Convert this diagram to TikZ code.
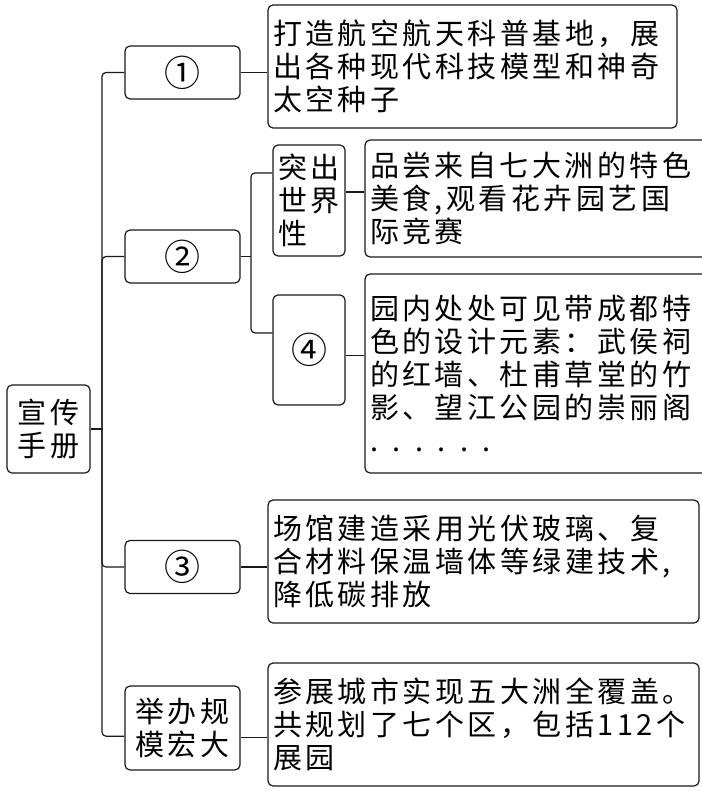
\documentclass[tikz,border=0pt]{standalone}
\usepackage{fontspec}
\setmainfont{Noto Sans CJK SC}[LetterSpace=12]
\usetikzlibrary{positioning}

\begin{document}
\begin{tikzpicture}[x=1pt,y=-1pt,
  box/.style={draw=black!90, line width=1.2pt, rounded corners=5pt,
    inner xsep=5pt, inner ysep=0pt, font=\fontsize{29}{33}\selectfont},
  lbl/.style={box, minimum width=115pt, align=center},
  num/.style={font=\fontsize{36}{36}\selectfont},
  txt/.style={box, align=left},
  wire/.style={draw=black!90, line width=1.2pt, rounded corners=4pt}]
\useasboundingbox (0,0) rectangle (701,791);

% root and first level
\node [box, minimum width=83pt, minimum height=88pt, align=center] (root) at (48.5,429) {宣传\\手册};
\node [lbl, num, minimum height=53pt] (n1) at (182.5,72.5) {①};
\node [lbl, num, minimum height=53pt] (n2) at (182.5,256.5) {②};
\node [lbl, num, minimum height=53pt] (n3) at (182.5,567) {③};
\node [lbl, minimum height=84pt] (n4) at (182.5,728) {举办规\\模宏大};

% second level under n2
\node [box, inner xsep=3pt, minimum width=72pt, minimum height=111pt, align=left] (s1) at (309,200.5) {突出\\世界\\性};
\node [box, num, minimum width=72pt, minimum height=110pt, align=center] (s2) at (309,350) {④};

% text boxes
\node [txt, text width=399pt, minimum height=123pt] (t1) at (472.5,66.5)
  {打造航空航天科普基地，展\\出各种现代科技模型和神奇\\太空种子};
\node [txt, text width=335pt, minimum height=117pt] (ts1) at (537.5,198.5)
  {品尝来自七大洲的特色\\美食,观看花卉园艺国\\际竞赛};
\node [txt, text width=335pt, minimum height=199pt] (ts2) at (537.5,373.5)
  {园内处处可见带成都特\\色的设计元素：武侯祠\\的红墙、杜甫草堂的竹\\影、望江公园的崇丽阁\\. . . . . .};
\node [txt, text width=421pt, minimum height=123pt] (t3) at (483.5,561.5)
  {场馆建造采用光伏玻璃、复\\合材料保温墙体等绿建技术,\\降低碳排放};
\node [txt, text width=421pt, minimum height=123pt] (t4) at (483.5,724.5)
  {参展城市实现五大洲全覆盖。\\共规划了七个区，包括112个\\展园};

% connectors
\coordinate (fork) at (102,429);
\coordinate (fork2) at (251,256.5);
\draw [wire] (root.east) -- (fork);
\draw [wire] (n1.west) -| (fork) |- (n4.188);
\foreach \n in {n2,n3}
  \draw [wire] (\n.west) -| (fork);
\draw [wire] (n2.east) -- (fork2);
\draw [wire] (s1.143) -| (fork2) |- (s2.155);
\draw [wire] (n1.east) -- (n1.east -| t1.west);
\draw [wire] (s1.13) -- (s1.13 -| ts1.west);
\draw [wire] (s2.-8) -- (s2.-8 -| ts2.west);
\draw [wire] (n3.east) -- (n3.east -| t3.west);
\draw [wire] (n4.-9) -- (n4.-9 -| t4.west);
\end{tikzpicture}
\end{document}
